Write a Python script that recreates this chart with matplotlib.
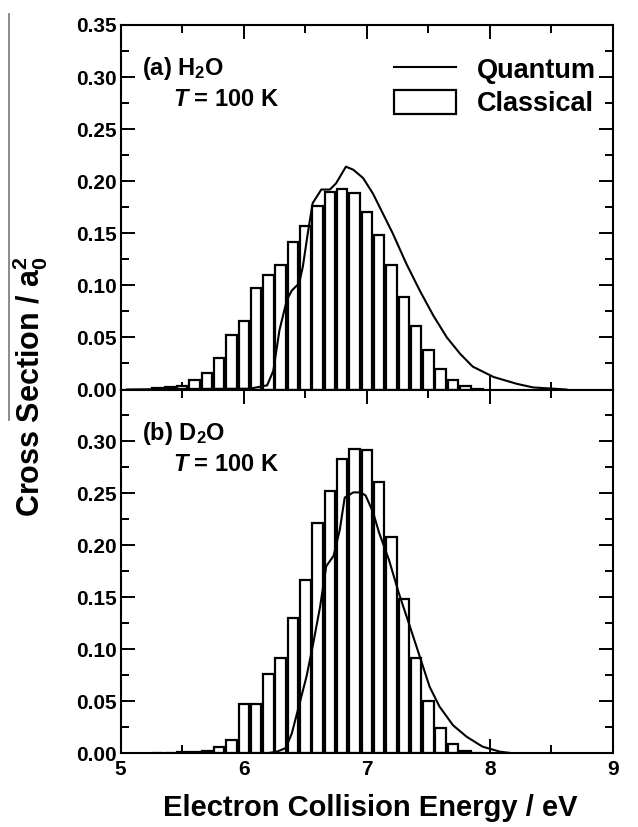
import matplotlib
matplotlib.use("Agg")
import matplotlib.pyplot as plt
from matplotlib.lines import Line2D
from matplotlib.patches import Rectangle
from matplotlib.ticker import MultipleLocator

plt.rcParams['font.family'] = ['Liberation Sans', 'DejaVu Sans']
plt.rcParams['font.weight'] = 'bold'
plt.rcParams['mathtext.fontset'] = 'custom'
plt.rcParams['mathtext.rm'] = 'Liberation Sans:bold'
plt.rcParams['mathtext.bf'] = 'Liberation Sans:bold'
plt.rcParams['mathtext.it'] = 'Liberation Sans:bold:italic'

# ---------------- data ----------------
bin_centers = [5.3, 5.4, 5.5, 5.6, 5.7, 5.8, 5.9, 6.0, 6.1, 6.2, 6.3, 6.4, 6.5, 6.6,
               6.7, 6.8, 6.9, 7.0, 7.1, 7.2, 7.3, 7.4, 7.5, 7.6, 7.7, 7.8, 7.9]

h2o_classical = [0.001, 0.002, 0.003, 0.0093, 0.0163, 0.030, 0.0526, 0.0657, 0.0978,
                 0.110, 0.120, 0.142, 0.157, 0.176, 0.190, 0.193, 0.189, 0.170, 0.148,
                 0.120, 0.0885, 0.061, 0.0375, 0.020, 0.009, 0.003, 0.0005]

d2o_classical = [0.0003, 0.0005, 0.0008, 0.0016, 0.0026, 0.006, 0.013, 0.0476, 0.047,
                 0.076, 0.0916, 0.130, 0.167, 0.222, 0.252, 0.283, 0.293, 0.292, 0.261,
                 0.208, 0.148, 0.0916, 0.050, 0.024, 0.009, 0.002, 0.0003]

h2o_q_energy = [5.05, 5.45, 6.05, 6.19, 6.24, 6.29, 6.35, 6.39, 6.45, 6.48, 6.52, 6.56,
                6.63, 6.70, 6.75, 6.83, 6.89, 6.97, 7.05, 7.13, 7.21, 7.32, 7.43, 7.54,
                7.65, 7.76, 7.86, 8.03, 8.22, 8.35, 8.54, 8.62]
h2o_q_sigma = [0.0, 0.0005, 0.0008, 0.004, 0.018, 0.057, 0.086, 0.095, 0.102, 0.118,
               0.150, 0.179, 0.192, 0.192, 0.198, 0.214, 0.211, 0.203, 0.188, 0.169,
               0.150, 0.121, 0.095, 0.071, 0.050, 0.034, 0.022, 0.012, 0.0054, 0.002,
               0.0006, 0.0]

d2o_q_energy = [6.19, 6.27, 6.34, 6.39, 6.46, 6.51, 6.56, 6.62, 6.67, 6.73, 6.78, 6.82,
                6.89, 6.95, 6.99, 7.05, 7.10, 7.18, 7.26, 7.35, 7.43, 7.51, 7.59, 7.70,
                7.81, 7.94, 8.08, 8.19]
d2o_q_sigma = [0.0, 0.0016, 0.005, 0.019, 0.051, 0.074, 0.103, 0.141, 0.180, 0.190,
               0.215, 0.246, 0.251, 0.251, 0.248, 0.232, 0.212, 0.186, 0.154, 0.122,
               0.093, 0.064, 0.045, 0.027, 0.016, 0.0064, 0.0016, 0.0]

x_ticks = [5, 6, 7, 8, 9]
top_yticks = [0.00, 0.05, 0.10, 0.15, 0.20, 0.25, 0.30, 0.35]
bot_yticks = [0.00, 0.05, 0.10, 0.15, 0.20, 0.25, 0.30]

# ---------------- figure ----------------
W, H = 638, 827
fig = plt.figure(figsize=(W / 100, H / 100), dpi=100)
left = 120.7 / W
right = 613 / W
ytop = 1 - 25 / H
ymid = 1 - 389.5 / H
ybot = 1 - 753.3 / H
ax1 = fig.add_axes([left, ymid, right - left, ytop - ymid])
ax2 = fig.add_axes([left, ybot, right - left, ymid - ybot])

tick_fs = 15
for ax in (ax1, ax2):
    ax.set_xlim(5, 9)
    ax.set_ylim(0, 0.35)
    ax.xaxis.set_major_locator(MultipleLocator(1))
    ax.xaxis.set_minor_locator(MultipleLocator(0.5))
    ax.yaxis.set_minor_locator(MultipleLocator(0.025))
    ax.tick_params(which='both', direction='in', top=True, right=True, width=1.4)
    ax.tick_params(which='major', length=10, labelsize=tick_fs, pad=5)
    ax.tick_params(which='minor', length=6)
    ax.tick_params(axis='y', which='major', pad=3)
    for sp in ax.spines.values():
        sp.set_linewidth(1.5)

ax1.set_yticks(top_yticks)
ax1.set_yticklabels([f"{v:.2f}" for v in top_yticks])
ax1.tick_params(labelbottom=False)
ax2.set_yticks(bot_yticks)
ax2.set_yticklabels([f"{v:.2f}" for v in bot_yticks])
ax2.set_xticks(x_ticks)
ax2.set_xticklabels([str(v) for v in x_ticks])

bar_w = 0.085
ax1.bar(bin_centers, h2o_classical, width=bar_w, facecolor='white', edgecolor='black',
        linewidth=1.6, zorder=2)
ax1.plot(h2o_q_energy, h2o_q_sigma, color='black', linewidth=1.5, zorder=3)
ax2.bar(bin_centers, d2o_classical, width=bar_w, facecolor='white', edgecolor='black',
        linewidth=1.6, zorder=2)
ax2.plot(d2o_q_energy, d2o_q_sigma, color='black', linewidth=1.5, zorder=3)

ann_fs = 17
ax1.text(0.043, 0.88, r'(a) H$_2$O', transform=ax1.transAxes, fontsize=ann_fs,
         fontweight='bold', va='center', ha='left')
ax1.text(0.107, 0.795, r'$T$ = 100 K', transform=ax1.transAxes, fontsize=ann_fs,
         fontweight='bold', va='center', ha='left')
ax2.text(0.043, 0.88, r'(b) D$_2$O', transform=ax2.transAxes, fontsize=ann_fs,
         fontweight='bold', va='center', ha='left')
ax2.text(0.107, 0.795, r'$T$ = 100 K', transform=ax2.transAxes, fontsize=ann_fs,
         fontweight='bold', va='center', ha='left')

handles = [Line2D([], [], color='black', linewidth=1.5),
           Rectangle((0, 0), 1, 1, facecolor='white', edgecolor='black', linewidth=1.6)]
ax1.legend(handles, ['Quantum', 'Classical'], loc='upper right',
           bbox_to_anchor=(0.998, 0.958), frameon=False,
           handlelength=2.3, handleheight=1.0, handletextpad=0.75, labelspacing=0.22,
           borderaxespad=0.2, prop={'weight': 'bold', 'size': 19.5})

fig.text(0.5 * (left + right) + 0.006, 1 - 808 / H, 'Electron Collision Energy / eV',
         ha='center', va='center', fontsize=21, fontweight='bold')
fig.text(30 / W, 1 - 387 / H, r'Cross Section / a$_0^2$', rotation=90,
         ha='center', va='center', fontsize=22, fontweight='bold')

# vertical grey rule at the left page edge (as in the reference scan)
fig.add_artist(Line2D([8.5 / W, 8.5 / W], [1 - 14 / H, 1 - 420 / H],
                      transform=fig.transFigure, color='#777777', linewidth=1.2))

fig.savefig('out.png', dpi=100)
